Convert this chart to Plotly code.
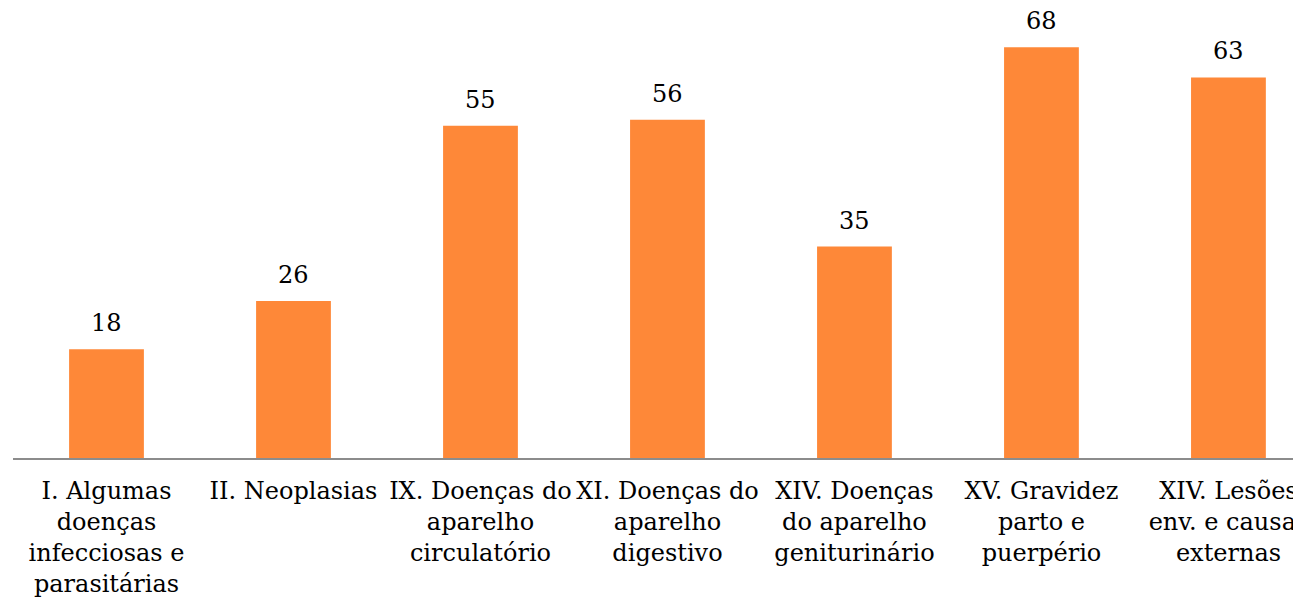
import plotly.graph_objects as go

categories = [
    "I. Algumas<br>doenças<br>infecciosas e<br>parasitárias",
    "II. Neoplasias",
    "IX. Doenças do<br>aparelho<br>circulatório",
    "XI. Doenças do<br>aparelho<br>digestivo",
    "XIV. Doenças<br>do aparelho<br>geniturinário",
    "XV. Gravidez<br>parto e<br>puerpério",
    "XIV. Lesões<br>env. e causas<br>externas",
]
values = [18, 26, 55, 56, 35, 68, 63]

FONT = "DejaVu Serif"
xs = list(range(len(categories)))

fig = go.Figure(
    go.Bar(
        x=xs,
        y=values,
        marker=dict(color="#FE8838", line=dict(width=0)),
        cliponaxis=False,
    )
)

for x, v in zip(xs, values):
    fig.add_annotation(
        x=x, y=v, text=str(v), showarrow=False,
        yanchor="bottom", yshift=10,
        font=dict(family=FONT, size=24, color="#000000"),
    )

fig.update_layout(
    width=1293,
    height=593,
    margin=dict(l=5, r=0, t=0, b=143),
    paper_bgcolor="white",
    plot_bgcolor="white",
    bargap=0.6,
    showlegend=False,
    font=dict(family=FONT, size=24, color="#000000"),
    xaxis=dict(
        tickmode="array",
        tickvals=xs,
        ticktext=categories,
        range=[-0.5, 6.388],
        showline=True,
        linecolor="#8C8C8C",
        linewidth=2,
        showgrid=False,
        zeroline=False,
        ticks="",
        ticklabelstandoff=10,
        ticklabeloverflow="allow",
        tickangle=0,
        automargin=False,
        tickfont=dict(family=FONT, size=24, color="#000000"),
    ),
    yaxis=dict(
        range=[0, 74.5],
        visible=False,
        showgrid=False,
        zeroline=False,
    ),
)

fig.write_html("out.html")
